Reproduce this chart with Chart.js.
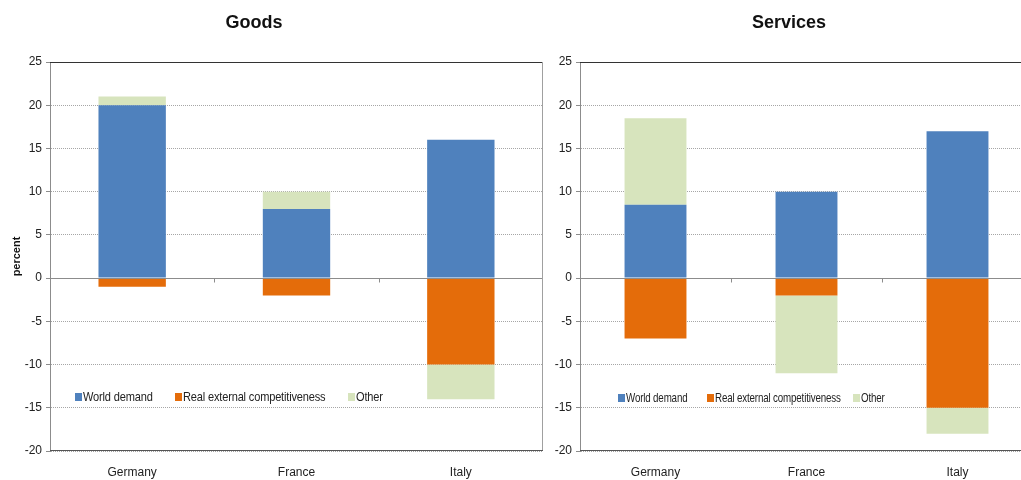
<!DOCTYPE html>
<html>
<head>
<meta charset="utf-8">
<script src="https://cdn.jsdelivr.net/npm/chart.js@4"></script>
<style>
  body { margin: 0; background: #fff; width: 1021px; height: 480px; position: relative; overflow: hidden; }
  .box { position: absolute; top: 0; height: 480px; }
  .title { position: absolute; top: 12px; font: bold 18px "Liberation Sans", Arial, sans-serif; color: #111; transform: translateX(-50%); white-space: nowrap; }
  .sw { position: absolute; width: 7px; height: 8px; }
  .leg { position: absolute; font: 13px "Liberation Sans", Arial, sans-serif; color: #222; white-space: nowrap; transform-origin: 0 0; letter-spacing: -0.2px; }
</style>
</head>
<body>
<div class="box" style="left:0;width:548px"><canvas id="goods"></canvas></div>
<div class="box" style="left:550px;width:485px"><canvas id="services"></canvas></div>
<div class="title" style="left:254px">Goods</div>
<div class="title" style="left:789px">Services</div>
<div id="legGoods"></div>
<div id="legServices"></div>
<script>
const categories = ["Germany", "France", "Italy"];
const seriesNames = ["World demand", "Real external competitiveness", "Other"];
const seriesColors = ["#4f81bd", "#e46c0a", "#d7e4bd"];

const goodsWorld = [20, 8, 16];
const goodsReal = [-1, -2, -10];
const goodsOther = [1, 2, -4];

const servicesWorld = [8.5, 10, 17];
const servicesReal = [-7, -2, -15];
const servicesOther = [10, -9, -3];

const yMin = -20, yMax = 25, yStep = 5;

const font = "'Liberation Sans', Arial, sans-serif";

// frame, solid zero line and the little category ticks on it
const framePlugin = {
  id: "frame",
  afterDraw(chart) {
    const { ctx, chartArea: a, scales } = chart;
    const y0 = Math.round(scales.y.getPixelForValue(0)) + 0.5;
    ctx.save();
    ctx.lineWidth = 1;
    const line = (x1, y1, x2, y2, c) => {
      ctx.strokeStyle = c;
      ctx.beginPath(); ctx.moveTo(x1, y1); ctx.lineTo(x2, y2); ctx.stroke();
    };
    line(a.left, y0, a.right, y0, "#8c8c8c");
    const n = categories.length;
    for (let i = 1; i < n; i++) {
      const x = Math.round(a.left + (a.right - a.left) * i / n) + 0.5;
      line(x, y0, x, y0 + 4, "#8c8c8c");
    }
    line(a.left, a.top + 0.5, a.right, a.top + 0.5, "#333");
    line(a.right - 0.5, a.top, a.right - 0.5, a.bottom, "#a0a0a0");
    line(a.left, a.bottom - 0.5, a.right, a.bottom - 0.5, "#555");
    ctx.restore();
  }
};

function makeChart(id, world, real, other, yWidth, padRight, showTitle) {
  const values = [world, real, other];
  new Chart(document.getElementById(id), {
    type: "bar",
    data: {
      labels: categories,
      datasets: seriesNames.map((name, i) => ({
        label: name,
        data: values[i],
        backgroundColor: seriesColors[i],
        borderWidth: 0,
        categoryPercentage: 1,
        barPercentage: 0.41
      }))
    },
    options: {
      responsive: false,
      animation: false,
      devicePixelRatio: 1,
      layout: { padding: { top: 62, right: padRight, left: 0, bottom: 0 } },
      plugins: { legend: { display: false }, title: { display: false }, tooltip: { enabled: false } },
      scales: {
        x: {
          stacked: true,
          grid: { display: false, drawTicks: false },
          border: { display: false },
          ticks: { color: "#222", font: { family: font, size: 12 }, padding: 14 },
          afterFit(s) { s.height = 29; }
        },
        y: {
          stacked: true,
          min: yMin, max: yMax,
          ticks: { stepSize: yStep, color: "#222", font: { family: font, size: 12 }, padding: 4 },
          grid: { color: "#a6a6a6", tickLength: 4, drawTicks: true, tickColor: "#8c8c8c" },
          border: { display: true, color: "#8c8c8c", dash: [1, 1] },
          title: {
            display: showTitle, text: "percent", color: "#111",
            font: { family: font, size: 11, weight: "bold" },
            padding: { top: 10, bottom: 0 }
          },
          afterFit(s) { s.width = yWidth; }
        }
      }
    },
    plugins: [framePlugin]
  });
}

function buildLegend(el, xs, top, squeeze) {
  seriesNames.forEach((name, i) => {
    const sw = document.createElement("div");
    sw.className = "sw";
    sw.style.left = xs[i] + "px";
    sw.style.top = (top + 4) + "px";
    sw.style.background = seriesColors[i];
    el.appendChild(sw);
    const d = document.createElement("div");
    d.className = "leg";
    d.style.left = (xs[i] + 8) + "px";
    d.style.top = top + "px";
    d.style.transform = "scaleX(" + squeeze + ")";
    d.textContent = name;
    el.appendChild(d);
  });
}

document.getElementById("goods").width = 548;
document.getElementById("goods").height = 480;
document.getElementById("services").width = 485;
document.getElementById("services").height = 480;

makeChart("goods", goodsWorld, goodsReal, goodsOther, 50, 5, true);
makeChart("services", servicesWorld, servicesReal, servicesOther, 30, 2, false);

buildLegend(document.getElementById("legGoods"), [75, 175, 348], 389, 0.85);
buildLegend(document.getElementById("legServices"), [618, 707, 853], 390, 0.75);
</script>
</body>
</html>
